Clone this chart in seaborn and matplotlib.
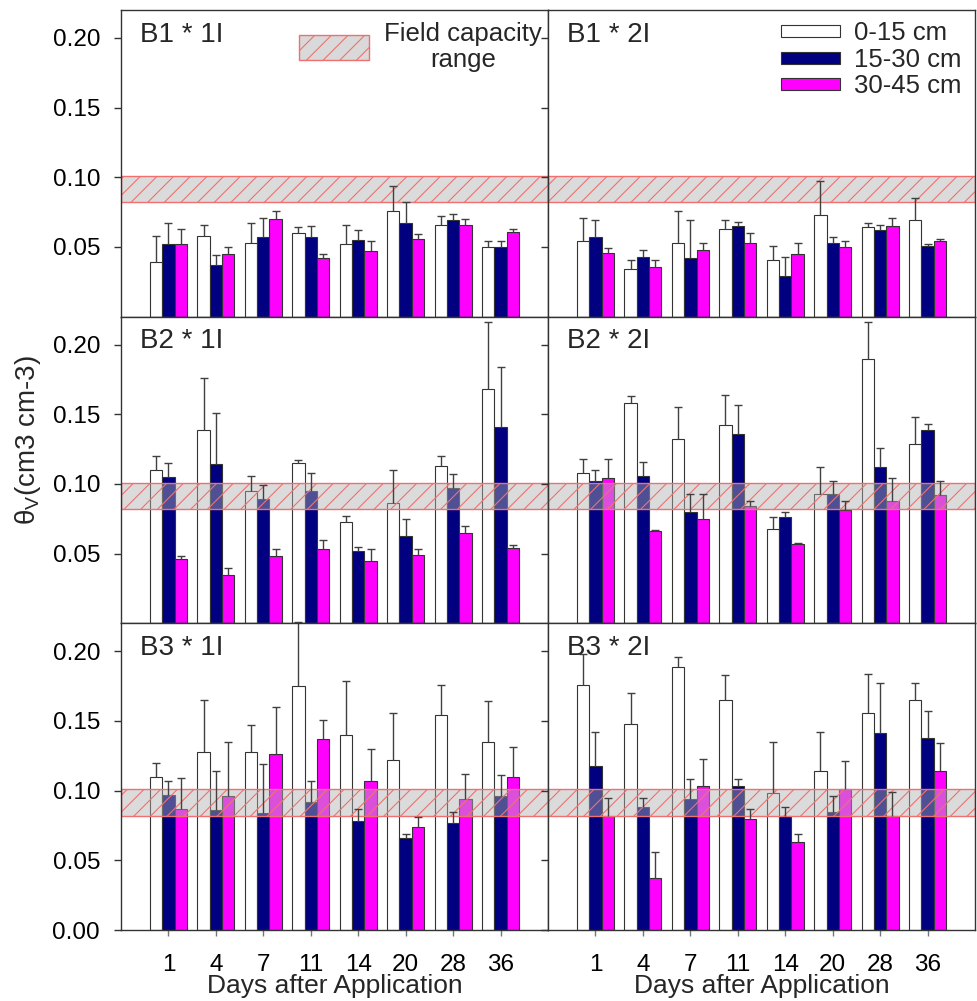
import numpy as np
import pandas as pd
import seaborn as sns
import matplotlib.pyplot as plt
import matplotlib.patches as mpatches

# ---- data ----
days = ["1", "4", "7", "11", "14", "20", "28", "36"]
depths = ["0-15 cm", "15-30 cm", "30-45 cm"]
panels = ["B1 * 1I", "B1 * 2I", "B2 * 1I", "B2 * 2I", "B3 * 1I", "B3 * 2I"]
field_capacity = (0.082, 0.101)

# mean theta_v, one row per depth
b1_1i = [[0.039, 0.058, 0.053, 0.060, 0.052, 0.076, 0.066, 0.050],
         [0.052, 0.037, 0.057, 0.057, 0.055, 0.067, 0.069, 0.050],
         [0.052, 0.045, 0.070, 0.042, 0.047, 0.056, 0.066, 0.061]]
b1_2i = [[0.054, 0.034, 0.053, 0.063, 0.041, 0.073, 0.064, 0.069],
         [0.057, 0.043, 0.042, 0.065, 0.029, 0.053, 0.062, 0.051],
         [0.046, 0.036, 0.048, 0.053, 0.045, 0.050, 0.065, 0.054]]
b2_1i = [[0.110, 0.139, 0.095, 0.115, 0.073, 0.086, 0.113, 0.168],
         [0.105, 0.114, 0.089, 0.095, 0.052, 0.063, 0.097, 0.141],
         [0.046, 0.035, 0.048, 0.053, 0.045, 0.049, 0.065, 0.054]]
b2_2i = [[0.108, 0.158, 0.132, 0.142, 0.068, 0.093, 0.190, 0.129],
         [0.102, 0.106, 0.080, 0.136, 0.076, 0.093, 0.112, 0.139],
         [0.104, 0.066, 0.075, 0.084, 0.057, 0.081, 0.088, 0.092]]
b3_1i = [[0.110, 0.128, 0.128, 0.175, 0.140, 0.122, 0.154, 0.135],
         [0.097, 0.086, 0.084, 0.092, 0.078, 0.066, 0.077, 0.096],
         [0.087, 0.096, 0.126, 0.137, 0.107, 0.074, 0.094, 0.110]]
b3_2i = [[0.176, 0.148, 0.189, 0.165, 0.098, 0.114, 0.156, 0.165],
         [0.118, 0.088, 0.094, 0.103, 0.082, 0.085, 0.141, 0.138],
         [0.082, 0.037, 0.103, 0.080, 0.063, 0.101, 0.082, 0.114]]

# top of the (upper) error bar
b1_1i_top = [[0.058, 0.066, 0.067, 0.064, 0.066, 0.094, 0.072, 0.054],
             [0.067, 0.044, 0.071, 0.065, 0.062, 0.082, 0.074, 0.054],
             [0.063, 0.050, 0.076, 0.045, 0.054, 0.059, 0.070, 0.063]]
b1_2i_top = [[0.071, 0.041, 0.076, 0.069, 0.051, 0.097, 0.067, 0.085],
             [0.069, 0.048, 0.069, 0.068, 0.043, 0.057, 0.066, 0.052],
             [0.049, 0.041, 0.053, 0.060, 0.053, 0.054, 0.071, 0.056]]
b2_1i_top = [[0.120, 0.176, 0.106, 0.117, 0.077, 0.110, 0.120, 0.216],
             [0.115, 0.151, 0.099, 0.108, 0.055, 0.075, 0.107, 0.184],
             [0.048, 0.040, 0.053, 0.060, 0.053, 0.053, 0.070, 0.056]]
b2_2i_top = [[0.118, 0.163, 0.155, 0.164, 0.076, 0.112, 0.216, 0.148],
             [0.110, 0.116, 0.093, 0.157, 0.080, 0.102, 0.126, 0.143],
             [0.118, 0.067, 0.093, 0.088, 0.058, 0.088, 0.104, 0.102]]
b3_1i_top = [[0.120, 0.165, 0.147, 0.221, 0.179, 0.156, 0.176, 0.164],
             [0.107, 0.114, 0.119, 0.107, 0.087, 0.069, 0.085, 0.111],
             [0.109, 0.135, 0.160, 0.151, 0.130, 0.081, 0.112, 0.131]]
b3_2i_top = [[0.198, 0.170, 0.196, 0.183, 0.135, 0.142, 0.184, 0.177],
             [0.142, 0.095, 0.108, 0.108, 0.088, 0.096, 0.177, 0.157],
             [0.095, 0.056, 0.123, 0.087, 0.069, 0.121, 0.099, 0.134]]

means = [b1_1i, b1_2i, b2_1i, b2_2i, b3_1i, b3_2i]
tops = [b1_1i_top, b1_2i_top, b2_1i_top, b2_2i_top, b3_1i_top, b3_2i_top]

colors = {"0-15 cm": "white", "15-30 cm": "#000080", "30-45 cm": "#ff00ff"}

# ---- style ----
sns.set_style("ticks")
plt.rcParams["font.family"] = ["Liberation Sans", "DejaVu Sans"]
plt.rcParams["mathtext.fontset"] = "custom"
plt.rcParams["mathtext.rm"] = "Liberation Sans"
plt.rcParams["mathtext.it"] = "Liberation Sans"
plt.rcParams["axes.edgecolor"] = "#333333"
plt.rcParams["axes.linewidth"] = 1.0
plt.rcParams["hatch.linewidth"] = 0.8

fig, axes = plt.subplots(3, 2, figsize=(9.77, 10.01), dpi=100)
fig.subplots_adjust(left=0.1238, right=0.998, top=0.990, bottom=0.0709,
                    wspace=0, hspace=0)

for i, ax in enumerate(axes.flat):
    df = pd.DataFrame({
        "day": np.tile(days, 3),
        "depth": np.repeat(depths, len(days)),
        "theta": np.concatenate(means[i]),
    })
    sns.barplot(data=df, x="day", y="theta", hue="depth", order=days,
                hue_order=depths, palette=colors, saturation=1, width=0.78,
                edgecolor="#333333", linewidth=0.8, errorbar=None,
                legend=False, ax=ax, zorder=2)

    # upper error bars only
    for cont, top in zip(ax.containers, tops[i]):
        xs = np.array([b.get_x() + b.get_width() / 2 for b in cont])
        hs = np.array([b.get_height() for b in cont])
        eb = ax.errorbar(xs, hs, yerr=[np.zeros(len(hs)), np.array(top) - hs],
                         fmt="none", ecolor="#404040", elinewidth=1,
                         capsize=2.8, capthick=1, zorder=5, clip_on=False)
        eb.lines[1][0].set_visible(False)
        for c in list(eb.lines[1]) + list(eb.lines[2]):
            c.set_clip_on(False)

    # field capacity band
    ax.axhspan(*field_capacity, facecolor="#b0b0b0", alpha=0.45, lw=0, zorder=3)
    ax.axhspan(*field_capacity, facecolor="none", edgecolor="#f07070",
               hatch="//", lw=1, zorder=3.1)

    ax.set_xlim(-1.0, 8.0)
    ax.set_ylim(0, 0.22)
    ax.set_xlabel("")
    ax.set_ylabel("")
    row, col = divmod(i, 2)
    if row == 2:
        ax.set_yticks([0, 0.05, 0.10, 0.15, 0.20])
    else:
        ax.set_yticks([0.05, 0.10, 0.15, 0.20])
    ax.yaxis.set_major_formatter(plt.FormatStrFormatter("%.2f"))
    ax.tick_params(axis="y", direction="out", length=5, width=1,
                   colors="#333333", labelcolor="black", labelsize=17.5, pad=10)
    if col == 1:
        ax.tick_params(axis="y", labelleft=False)
    if row == 2:
        ax.tick_params(axis="x", direction="out", length=4, width=1,
                       colors="#777777", labelcolor="black", labelsize=17.5, pad=13)
        ax.set_xlabel("Days after Application", fontsize=19, labelpad=-1)
    else:
        ax.tick_params(axis="x", bottom=False, labelbottom=False)
    for s in ax.spines.values():
        s.set_visible(True)
        s.set_zorder(6)

    ax.text(0.045, 0.962, panels[i], transform=ax.transAxes, fontsize=20,
            ha="left", va="top", zorder=7)

# legends
fc_patch = mpatches.Patch(facecolor="#d9d9d9", edgecolor="#f07070", hatch="//")
leg1 = axes[0, 0].legend([fc_patch], ["Field capacity\nrange"], loc="upper left",
                         bbox_to_anchor=(0.418, 0.962), frameon=False, fontsize=18.5,
                         handlelength=2.7, handleheight=1.1, handletextpad=0.6,
                         borderpad=0, borderaxespad=0)
for t in leg1.get_texts():
    t.set_multialignment("center")
    t.set_linespacing(1.1)

depth_handles = [mpatches.Patch(facecolor=colors[d], edgecolor="#333333", lw=0.8)
                 for d in depths]
axes[0, 1].legend(depth_handles, depths, loc="upper right",
                  bbox_to_anchor=(0.968, 0.963), frameon=False, fontsize=18.5,
                  handlelength=2.3, handleheight=0.36, handletextpad=0.55,
                  labelspacing=0.1, borderpad=0, borderaxespad=0)

fig.text(0.029, 1 - 440 / 1001, r"$\theta_V$(cm3 cm-3)", rotation=90,
         ha="center", va="center", fontsize=20)

fig.savefig("out.png", dpi=100)
